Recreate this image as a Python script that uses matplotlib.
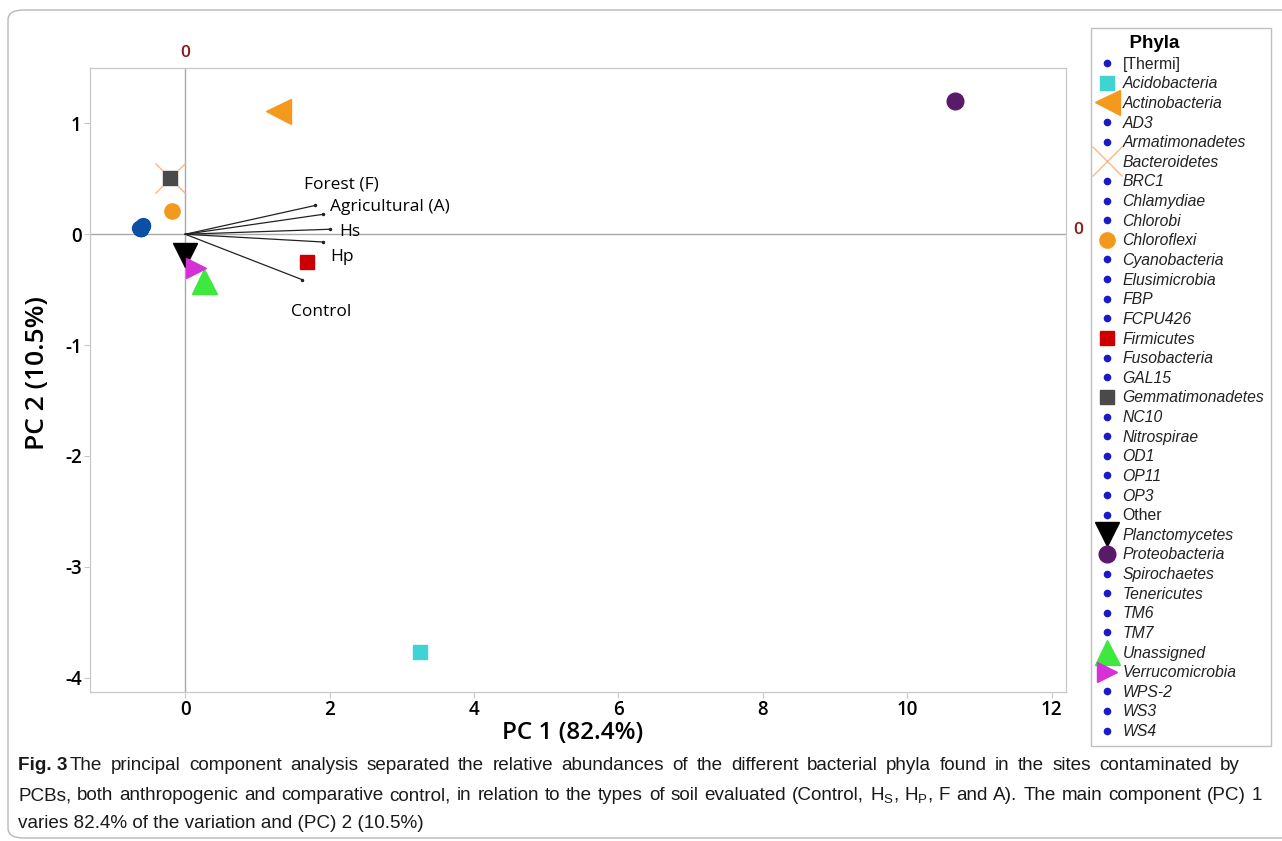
import matplotlib
matplotlib.use("Agg")
import matplotlib.pyplot as plt
from matplotlib.lines import Line2D
from matplotlib.patches import FancyBboxPatch

plt.rcParams["axes.unicode_minus"] = False

# ---------------------------------------------------------------------------
# Data
# ---------------------------------------------------------------------------
PHYLA = ["[Thermi]", "Acidobacteria", "Actinobacteria", "AD3", "Armatimonadetes",
         "Bacteroidetes", "BRC1", "Chlamydiae", "Chlorobi", "Chloroflexi",
         "Cyanobacteria", "Elusimicrobia", "FBP", "FCPU426", "Firmicutes",
         "Fusobacteria", "GAL15", "Gemmatimonadetes", "NC10", "Nitrospirae",
         "OD1", "OP11", "OP3", "Other", "Planctomycetes", "Proteobacteria",
         "Spirochaetes", "Tenericutes", "TM6", "TM7", "Unassigned",
         "Verrucomicrobia", "WPS-2", "WS3", "WS4"]

PC1 = [-0.62, 3.25, 1.29, -0.63, -0.60, -0.21, -0.62, -0.64, -0.61, -0.18,
       -0.59, -0.63, -0.62, -0.62, 1.69, -0.63, -0.62, -0.21, -0.62, -0.60,
       -0.63, -0.62, -0.62, -0.58, -0.01, 10.66, -0.63, -0.62, -0.62, -0.62,
       0.26, 0.15, -0.62, -0.62, -0.63]
PC2 = [0.06, -3.77, 1.11, 0.05, 0.07, 0.51, 0.06, 0.06, 0.05, 0.21,
       0.07, 0.06, 0.06, 0.05, -0.25, 0.06, 0.06, 0.51, 0.06, 0.07,
       0.06, 0.05, 0.06, 0.08, -0.19, 1.20, 0.06, 0.06, 0.05, 0.06,
       -0.42, -0.30, 0.06, 0.06, 0.05]

# loading vectors (soil types)
SOILS = ["Forest (F)", "Agricultural (A)", "Hs", "Hp", "Control"]
LOAD_PC1 = [1.80, 1.91, 2.00, 1.91, 1.62]
LOAD_PC2 = [0.26, 0.18, 0.045, -0.07, -0.41]

X_TICKS = [0, 2, 4, 6, 8, 10, 12]
Y_TICKS = [-4, -3, -2, -1, 0, 1]

CAPTION = [
    "The principal component analysis separated the relative abundances of the different "
    "bacterial phyla found in the sites contaminated by",
    r"PCBs, both anthropogenic and comparative control, in relation to the types of soil "
    r"evaluated (Control, H$_\mathregular{S}$, H$_\mathregular{P}$, F and A). The main component (PC) 1",
    "varies 82.4% of the variation and (PC) 2 (10.5%)",
]

# ---------------------------------------------------------------------------
# Styles
# ---------------------------------------------------------------------------
SMALL_PLOT = dict(marker="o", color="#0b4fa6", ms=10)
SMALL_LEG = dict(marker="o", color="#1a1ac8", ms=4.5)
STYLES = {
    "Acidobacteria":    dict(marker="s", color="#3fd3d3", ms=10),
    "Actinobacteria":   dict(marker="<", color="#f39a1e", ms=18),
    "Bacteroidetes":    dict(marker="x", color="#f5b98a", ms=22, mew=1.0),
    "Chloroflexi":      dict(marker="o", color="#f39a1e", ms=11),
    "Firmicutes":       dict(marker="s", color="#cc0000", ms=10),
    "Gemmatimonadetes": dict(marker="s", color="#4a4a4a", ms=10),
    "Planctomycetes":   dict(marker="v", color="#000000", ms=17),
    "Proteobacteria":   dict(marker="o", color="#5a1a6a", ms=12),
    "Unassigned":       dict(marker="^", color="#3ee83e", ms=18),
    "Verrucomicrobia":  dict(marker=">", color="#d630d6", ms=15),
}
LABEL_OFFSETS = {  # label offset from vector tip, in points
    "Forest (F)": (-8, 15, "left"),
    "Agricultural (A)": (5, 5, "left"),
    "Hs": (7, -2, "left"),
    "Hp": (5, -11, "left"),
    "Control": (14, -23, "center"),
}
ZERO_RED = "#8b1a1a"
SANS = "Liberation Sans"
UI = "Open Sans"
W, H = 1282, 841


def line_kw(st):
    st = dict(st)
    color = st.pop("color")
    return dict(ls="none", color=color, mec=color, **st)


def justify(fig, text, x0, x1, y, **kw):
    """Lay out words of one caption line so they span x0..x1 (pixels)."""
    renderer = fig.canvas.get_renderer()
    words = text.split(" ")
    objs = [fig.text(0, 1 - y / H, w, va="center", **kw) for w in words]
    widths = [o.get_window_extent(renderer).width for o in objs]
    gap = (x1 - x0 - sum(widths)) / max(len(words) - 1, 1)
    x = x0
    for o, w in zip(objs, widths):
        o.set_x(x / W)
        x += w + gap


fig = plt.figure(figsize=(W / 100, H / 100), dpi=100)
fig.patches.append(FancyBboxPatch((8 / W, 3 / H), 1.2, 828 / H,
                                  boxstyle="round,pad=0,rounding_size=0.012",
                                  transform=fig.transFigure, fill=False,
                                  ec="#b8b8b8", lw=1.0))

ax = fig.add_axes([90 / W, 1 - 692 / H, 976 / W, 624 / H])
ax.set_xlim(-1.32, 12.2)
ax.set_ylim(-4.13, 1.50)
for sp in ax.spines.values():
    sp.set_color("#c8c8c8")
    sp.set_linewidth(0.9)

ax.axhline(0, color="#a8a8a8", lw=1.0, zorder=1)
ax.axvline(0, color="#a8a8a8", lw=1.0, zorder=1)

handles = []
for name, x, y in zip(PHYLA, PC1, PC2):
    if name in STYLES:
        h, = ax.plot([x], [y], zorder=3, **line_kw(STYLES[name]))
    else:
        ax.plot([x], [y], zorder=3, **line_kw(SMALL_PLOT))
        h = Line2D([], [], **line_kw(SMALL_LEG))
    handles.append(h)

for s, lx, ly in zip(SOILS, LOAD_PC1, LOAD_PC2):
    ax.plot([0, lx], [0, ly], color="#222222", lw=0.9, zorder=2)
    ax.plot([lx], [ly], "o", color="#222222", ms=1.5, zorder=2)
    dx, dy, ha = LABEL_OFFSETS[s]
    ax.annotate(s, (lx, ly), xytext=(dx, dy), textcoords="offset points",
                ha=ha, va="center", fontsize=12.5, family=UI)

ax.annotate("0", (0, 1), xycoords=("data", "axes fraction"), xytext=(0, 11),
            textcoords="offset points", ha="center", va="center",
            color=ZERO_RED, fontsize=12.5, family=UI, fontweight="semibold")
ax.annotate("0", (1, 0), xycoords=("axes fraction", "data"), xytext=(9, 3),
            textcoords="offset points", ha="center", va="center",
            color=ZERO_RED, fontsize=12.5, family=UI, fontweight="semibold")

ax.set_xticks(X_TICKS)
ax.set_yticks(Y_TICKS)
ax.tick_params(length=4, color="#c8c8c8", labelsize=13.5, pad=2)
for lab in ax.get_xticklabels() + ax.get_yticklabels():
    lab.set_family(UI)
    lab.set_fontweight("semibold")
ax.set_xlabel("PC 1 (82.4%)", fontsize=17.5, family=UI, fontweight="semibold")
ax.set_ylabel("PC 2 (10.5%)", fontsize=19, family=UI, fontweight="semibold")
ax.xaxis.set_label_coords(0.495, (692 - 733) / 624)
ax.xaxis.label.set_va("center")
ax.yaxis.set_label_coords((38 - 90) / 976, (692 - 373) / 624)
ax.yaxis.label.set_va("center")

leg = fig.legend(handles, PHYLA, loc="upper left",
                 bbox_to_anchor=(1091 / W, 1 - 28 / H),
                 title="      Phyla", alignment="left", frameon=True, fancybox=False,
                 edgecolor="#b0b0b0", prop=dict(family=SANS, size=11.3),
                 labelspacing=0.295, handlelength=1.2, handletextpad=0.35,
                 borderaxespad=0, borderpad=0.45, markerscale=1.0)
leg.get_frame().set_linewidth(1.0)
leg.get_title().set_fontweight("bold")
leg.get_title().set_fontsize(13.5)
leg.get_title().set_family(SANS)
for t in leg.get_texts():
    if t.get_text() not in ("[Thermi]", "Other"):
        t.set_fontstyle("italic")
    t.set_color("#222222")

CAP = dict(fontsize=13.6, family=[SANS, "DejaVu Sans"], color="#1a1a1a")
fig.text(18 / W, 1 - 766 / H, "Fig. 3", fontweight="bold", va="center", **CAP)
justify(fig, CAPTION[0], 70, 1240, 766, **CAP)
justify(fig, CAPTION[1], 18, 1262, 796, **CAP)
fig.text(18 / W, 1 - 823 / H, CAPTION[2], va="center", **CAP)

fig.savefig("out.png", dpi=100)
